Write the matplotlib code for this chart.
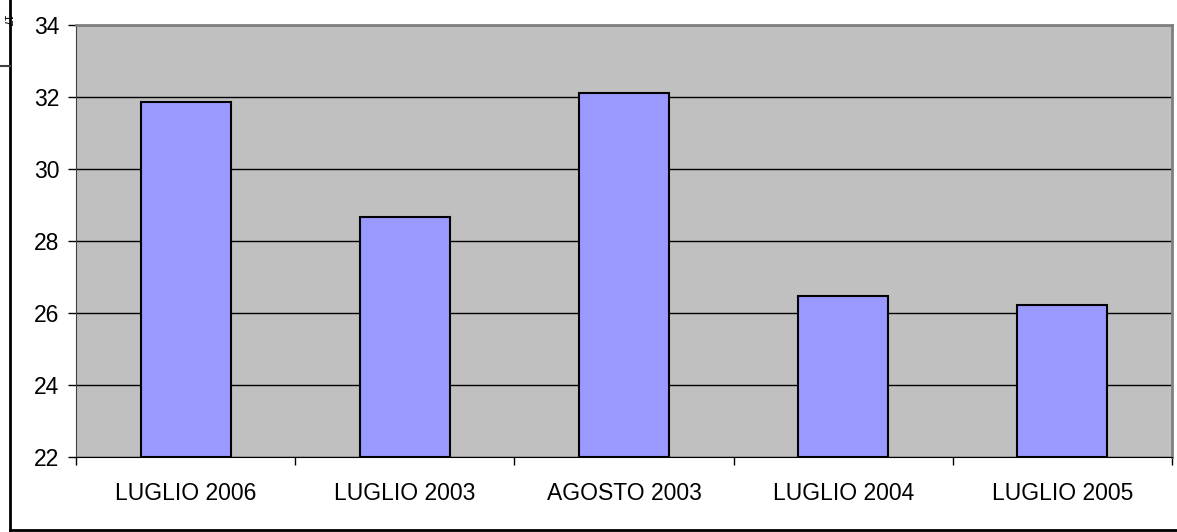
import matplotlib.pyplot as plt
from matplotlib.lines import Line2D
import numpy as np

plt.rcParams['font.family'] = ['Liberation Sans', 'DejaVu Sans']

categories = ['LUGLIO 2006', 'LUGLIO 2003', 'AGOSTO 2003', 'LUGLIO 2004', 'LUGLIO 2005']
values = [31.85, 28.67, 32.11, 26.47, 26.22]
y_ticks = [22, 24, 26, 28, 30, 32, 34]

fig = plt.figure(figsize=(11.77, 5.32), dpi=100)
ax = fig.add_axes([76 / 1177, 75 / 532, (1172 - 76) / 1177, (457 - 25) / 532])
ax.set_facecolor('#C0C0C0')

x = np.arange(len(categories))
ax.bar(x, [v - 22 for v in values], bottom=22, width=0.41,
       color='#9999FF', edgecolor='black', linewidth=1.5, zorder=3)

ax.set_xlim(-0.5, len(categories) - 0.5)
ax.set_ylim(22, 34)
ax.set_yticks(y_ticks)
ax.yaxis.grid(True, color='black', linewidth=1)
ax.set_axisbelow(True)

ax.set_xticks(x)
ax.set_xticklabels(categories, fontsize=16.5)
ax.tick_params(axis='x', which='major', length=0, pad=18)
ax.set_xticks(np.arange(-0.5, len(categories), 1), minor=True)
ax.tick_params(axis='x', which='minor', length=6, width=1, color='black')
ax.tick_params(axis='y', labelsize=16.5, length=6, width=1, color='black', pad=6)

for side in ['top', 'right']:
    ax.spines[side].set_color('#808080')
    ax.spines[side].set_linewidth(2)
ax.spines['left'].set_color('#404040')
ax.spines['bottom'].set_color('black')

# cropped outer chart frame
fig.add_artist(Line2D([10 / 1177, 10 / 1177], [2 / 532, 1], color='black', linewidth=2))
fig.add_artist(Line2D([10 / 1177, 1], [2 / 532, 2 / 532], color='black', linewidth=2))
fig.add_artist(Line2D([0, 10 / 1177], [466 / 532, 466 / 532], color='#404040', linewidth=1.5))
fig.text(1 / 1177, 1 - 20 / 532, '17', rotation=270, fontsize=8, ha='left', va='center')

fig.savefig('out.png', dpi=100)
